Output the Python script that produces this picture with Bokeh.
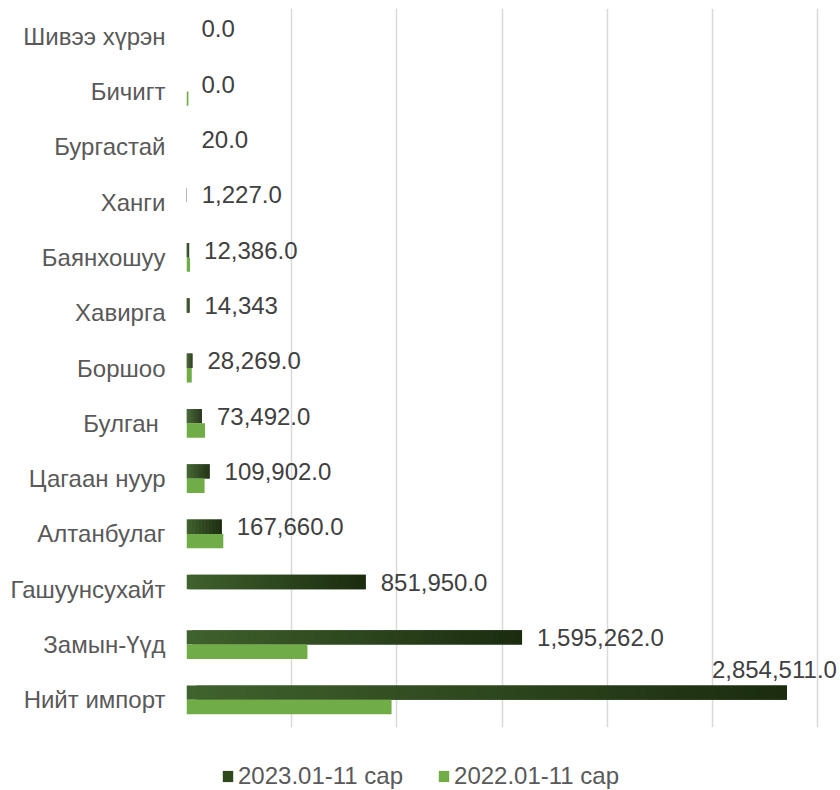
from bokeh.plotting import figure
from bokeh.models import (ColumnDataSource, FactorRange, Range1d, FixedTicker,
                          Legend, LegendItem)
from bokeh.layouts import column
from bokeh.transform import dodge
from bokeh.core.properties import value
from bokeh.embed import file_html
from bokeh.resources import INLINE

# ---------------- data ----------------
categories = ["Шивээ хүрэн", "Бичигт", "Бургастай", "Ханги", "Баянхошуу", "Хавирга",
              "Боршоо", "Булган ", "Цагаан нуур", "Алтанбулаг", "Гашуунсухайт",
              "Замын-Үүд", "Нийт импорт"]
values_2023 = [0, 0, 20, 1227, 12386, 14343, 28269, 73492, 109902, 167660,
               851950, 1595262, 2854511]
values_2022 = [0, 9000, 0, 0, 17000, 0, 25000, 88000, 86000, 175000,
               0, 575000, 975000]
labels_2023 = ["0.0", "0.0", "20.0", "1,227.0", "12,386.0", "14,343", "28,269.0",
               "73,492.0", "109,902.0", "167,660.0", "851,950.0", "1,595,262.0",
               "2,854,511.0"]
series_names = ["2023.01-11 сар", "2022.01-11 сар"]
grid_ticks = [0, 500000, 1000000, 1500000, 2000000, 2500000, 3000000]

# ---------------- styling ----------------
FONT = "Liberation Sans"
GREEN = "#70ad47"
DARK_L = (0x40, 0x62, 0x2d)
DARK_R = (0x1b, 0x2c, 0x0f)
DARK_MID = "#2d4a1d"
N_SLICES = 60

W, H = 840, 750
LEFT, RIGHT, TOP, BOTTOM = 186, 0, 8, 23
frame_w = W - LEFT - RIGHT
px_per_3m = 631.0
x_end = grid_ticks[-1] * frame_w / px_per_3m

p = figure(width=W, height=H, output_backend="svg", toolbar_location=None,
           y_range=FactorRange(*reversed(categories)),
           x_range=Range1d(0, x_end),
           min_border_left=LEFT, min_border_right=RIGHT,
           min_border_top=TOP, min_border_bottom=BOTTOM)
p.outline_line_color = None
p.background_fill_color = "white"
p.border_fill_color = "white"

BAR_H = 0.26

# gradient-like dark bars (2023): overlapping slices of each bar
ys, lefts, rights, cols = [], [], [], []
for c, v in zip(categories, values_2023):
    for k in range(N_SLICES):
        t = (k + 0.5) / N_SLICES
        rgb = tuple(int(round(a + (b - a) * t)) for a, b in zip(DARK_L, DARK_R))
        ys.append(c)
        lefts.append(v * k / N_SLICES)
        rights.append(min(v, v * (k + 2) / N_SLICES))
        cols.append("#%02x%02x%02x" % rgb)
src23 = ColumnDataSource(dict(y=ys, left=lefts, right=rights, color=cols))
p.hbar(y=dodge("y", BAR_H / 2, range=p.y_range), left="left", right="right",
       height=BAR_H, fill_color="color", line_color=None, source=src23)

src22 = ColumnDataSource(dict(y=categories, right=values_2022))
p.hbar(y=dodge("y", -BAR_H / 2, range=p.y_range), left=0, right="right",
       height=BAR_H, fill_color=GREEN, line_color=None, source=src22)

# data labels (2023 series)
lab_src = ColumnDataSource(dict(y=categories[:-1], x=values_2023[:-1],
                                text=labels_2023[:-1]))
p.text(x="x", y=dodge("y", BAR_H / 2, range=p.y_range), text="text", source=lab_src,
       x_offset=15, text_align="left", text_baseline="middle",
       text_font=value(FONT), text_font_size="24px", text_color="#404040")
last_src = ColumnDataSource(dict(y=categories[-1:], x=values_2023[-1:],
                                 text=labels_2023[-1:]))
p.text(x="x", y=dodge("y", BAR_H / 2 + 0.42, range=p.y_range), text="text",
       source=last_src, x_offset=50, text_align="right", text_baseline="middle",
       text_font=value(FONT), text_font_size="24px", text_color="#404040")

# axes / grid
p.xaxis.visible = False
p.xgrid.ticker = FixedTicker(ticks=grid_ticks)
p.xgrid.grid_line_color = "#d9d9d9"
p.xgrid.grid_line_width = 1.5
p.ygrid.grid_line_color = None

yax = p.yaxis[0]
yax.axis_line_color = None
yax.major_tick_line_color = None
yax.minor_tick_line_color = None
yax.major_tick_in = 0
yax.major_tick_out = 0
yax.major_label_standoff = 21
yax.major_label_text_font = FONT
yax.major_label_text_font_size = "24px"
yax.major_label_text_color = "#595959"

# ---------------- legend strip ----------------
H2 = 40
p2 = figure(width=W, height=H2, output_backend="svg", toolbar_location=None,
            x_range=Range1d(0, 1), y_range=Range1d(0, 1),
            min_border_left=0, min_border_right=0,
            min_border_top=0, min_border_bottom=0)
p2.axis.visible = False
p2.grid.visible = False
p2.outline_line_color = None
lr1 = p2.rect(x=[-10], y=[-10], width=1, height=1, fill_color=DARK_MID, line_color=None)
lr2 = p2.rect(x=[-10], y=[-10], width=1, height=1, fill_color=GREEN, line_color=None)
legend = Legend(items=[LegendItem(label=series_names[0], renderers=[lr1]),
                       LegendItem(label=series_names[1], renderers=[lr2])],
                orientation="horizontal", location=(35, 0),
                glyph_width=13, glyph_height=14, label_standoff=4, spacing=34,
                padding=0, margin=0, border_line_color=None,
                background_fill_alpha=0,
                label_text_font=FONT, label_text_font_size="24px",
                label_text_color="#595959")
p2.add_layout(legend, "center")

open("out.html", "w").write(file_html(column(p, p2, spacing=0), INLINE))
